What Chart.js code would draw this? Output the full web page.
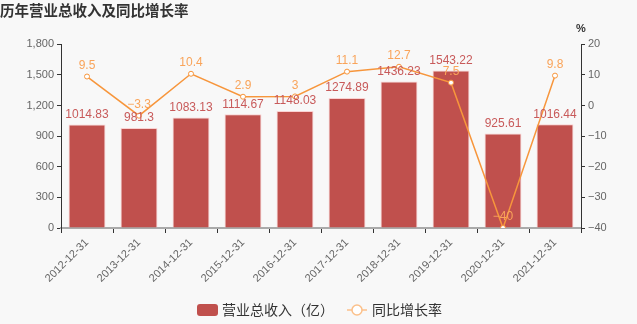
<!DOCTYPE html>
<html>
<head>
<meta charset="utf-8">
<script src="https://cdn.jsdelivr.net/npm/chart.js@4.4.1/dist/chart.umd.min.js"></script>
<style>
  html, body { margin: 0; padding: 0; background: #f8f8f8; }
  #box { width: 637px; height: 324px; }
</style>
</head>
<body>
<div id="box"><canvas id="grafica"></canvas></div>
<script>
const categorias = ["2012-12-31", "2013-12-31", "2014-12-31", "2015-12-31", "2016-12-31",
                    "2017-12-31", "2018-12-31", "2019-12-31", "2020-12-31", "2021-12-31"];
const ingresos = [1014.83, 981.3, 1083.13, 1114.67, 1148.03, 1274.89, 1436.23, 1543.22, 925.61, 1016.44];
const crecimiento = [9.5, -3.3, 10.4, 2.9, 3, 11.1, 12.7, 7.5, -40, 9.8];
const ticksIzq = [0, 300, 600, 900, 1200, 1500, 1800];
const ticksDer = [-40, -30, -20, -10, 0, 10, 20];

const rojo = "#c0504d";
const naranja = "#f7963c";
const fuente = "'Liberation Sans', Arial, sans-serif";
const fuenteCJK = "'Noto Sans CJK SC', 'Noto Sans', sans-serif";

function menos(v) {
    return String(v).replace("-", "\u2212");
}

// fondo gris claro
const fondo = {
    id: "fondo",
    beforeDraw(chart) {
        const c = chart.ctx;
        c.save();
        c.fillStyle = "#f8f8f8";
        c.fillRect(0, 0, chart.width, chart.height);
        c.restore();
    }
};

// etiquetas de valores, "%" y leyenda
const extras = {
    id: "extras",
    afterDatasetsDraw(chart) {
        const c = chart.ctx;
        c.save();
        c.textAlign = "center";
        c.textBaseline = "bottom";
        c.font = "12px " + fuente;

        c.fillStyle = "#c85a5a";
        chart.getDatasetMeta(0).data.forEach((bar, i) => {
            c.fillText(menos(ingresos[i]), bar.x, bar.y - 4);
        });

        c.fillStyle = "#f9a45a";
        chart.getDatasetMeta(1).data.forEach((p, i) => {
            c.fillText(menos(crecimiento[i]), p.x, p.y - 5);
        });

        // "%"
        const y1 = chart.scales.y1;
        c.fillStyle = "#333";
        c.font = "bold 11px " + fuente;
        c.fillText("%", y1.left, y1.top - 10);

        // leyenda
        const ly = 310;
        c.fillStyle = rojo;
        c.beginPath();
        c.roundRect(197, ly - 6, 21, 12, 3);
        c.fill();
        c.fillStyle = "#333";
        c.font = "14px " + fuenteCJK;
        c.textAlign = "left";
        c.textBaseline = "middle";
        c.fillText("营业总收入（亿）", 222, ly);

        c.strokeStyle = "#fbc08a";
        c.lineWidth = 1.5;
        c.beginPath();
        c.moveTo(347, ly);
        c.lineTo(352, ly);
        c.moveTo(362, ly);
        c.lineTo(367, ly);
        c.stroke();
        c.beginPath();
        c.arc(357, ly, 5, 0, Math.PI * 2);
        c.fillStyle = "#fff";
        c.fill();
        c.stroke();
        c.fillStyle = "#333";
        c.fillText("同比增长率", 372, ly);
        c.restore();
    }
};

new Chart(document.getElementById("grafica"), {
    data: {
        labels: categorias,
        datasets: [
            {
                type: "bar",
                label: "营业总收入（亿）",
                data: ingresos,
                yAxisID: "y",
                backgroundColor: rojo,
                borderColor: "rgba(250,200,200,0.8)",
                borderWidth: 1,
                categoryPercentage: 1,
                barPercentage: 0.71,
                order: 1
            },
            {
                type: "line",
                label: "同比增长率",
                data: crecimiento,
                yAxisID: "y1",
                borderColor: naranja,
                borderWidth: 1.5,
                pointRadius: 2.5,
                pointBackgroundColor: "#fff",
                pointBorderColor: naranja,
                pointBorderWidth: 1,
                tension: 0,
                order: 0
            }
        ]
    },
    options: {
        responsive: true,
        maintainAspectRatio: false,
        animation: false,
        layout: { padding: { left: 0, right: 0, top: 0, bottom: 30 } },
        plugins: {
            legend: { display: false },
            tooltip: { enabled: false },
            title: {
                display: true,
                text: "历年营业总收入及同比增长率",
                align: "start",
                color: "#333",
                font: { family: fuenteCJK, size: 14.5, weight: "bold" },
                padding: { top: 2, bottom: 25 }
            }
        },
        scales: {
            x: {
                offset: true,
                grid: { display: true, drawOnChartArea: false, color: "#333", tickLength: 5, offset: true },
                border: { display: true, color: "#aaa", width: 2 },
                ticks: { color: "#666", font: { family: fuente, size: 11 }, minRotation: 45, maxRotation: 45, autoSkip: false },
                afterFit(s) { s.height = 66; }
            },
            y: {
                position: "left",
                min: 0,
                max: 1800,
                afterBuildTicks(s) { s.ticks = ticksIzq.map(v => ({ value: v })); },
                grid: { drawOnChartArea: false, color: "#333", tickLength: 4 },
                border: { display: true, color: "#333", width: 1 },
                ticks: {
                    color: "#666",
                    font: { family: fuente, size: 11 },
                    padding: 3,
                    callback: v => v.toLocaleString("en-US")
                },
                afterFit(s) { s.width = 61; }
            },
            y1: {
                position: "right",
                min: -40,
                max: 20,
                afterBuildTicks(s) { s.ticks = ticksDer.map(v => ({ value: v })); },
                grid: { drawOnChartArea: false, color: "#333", tickLength: 4 },
                border: { display: true, color: "#333", width: 1 },
                ticks: {
                    color: "#666",
                    font: { family: fuente, size: 11 },
                    padding: 3,
                    callback: v => menos(v)
                },
                afterFit(s) { s.width = 56; }
            }
        }
    },
    plugins: [fondo, extras]
});
</script>
</body>
</html>
